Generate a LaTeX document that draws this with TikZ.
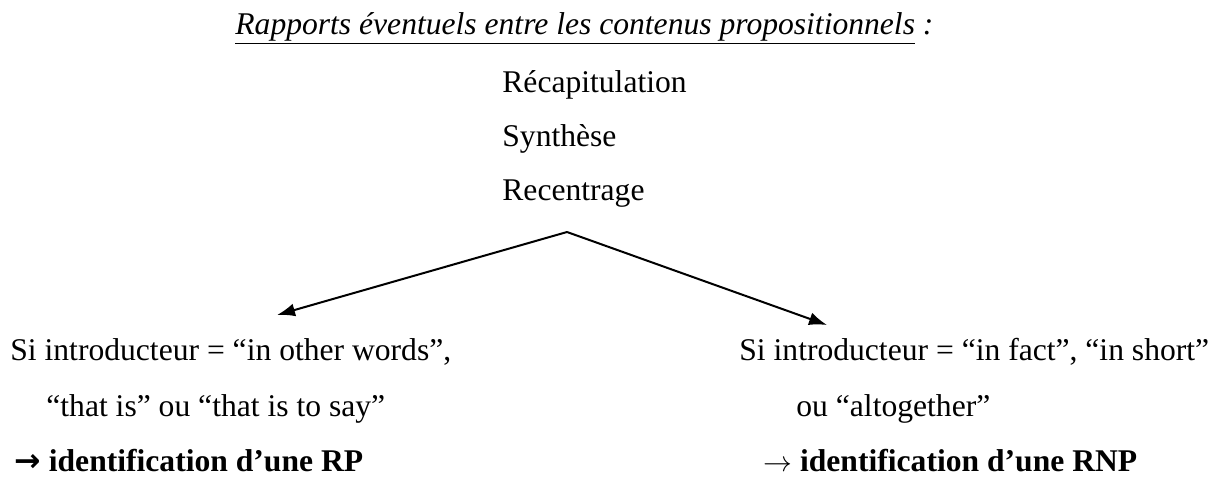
\documentclass[tikz,border=0pt]{standalone}
\usepackage{fontspec}
\setmainfont{Liberation Serif}
\newfontfamily\arrowfont{DejaVu Sans}
\usetikzlibrary{arrows.meta,positioning}

\begin{document}
\begin{tikzpicture}[
    x=0.5pt, y=-0.5pt,
    txt/.style={inner sep=0pt, anchor=base west, font=\fontsize{15.8}{19}\selectfont},
    link/.style={-{Latex[length=9pt,width=6.5pt]}, line width=1pt}
]
    \useasboundingbox (0,0) rectangle (1224,484);

    % Title
    \node[txt] (title) at (235,34) {\underline{\textit{Rapports éventuels entre les contenus propositionnels}}\textit{ :}};

    % Kinds of relation
    \node[txt] (recap) at (502,92) {Récapitulation};
    \node[txt] (synth) at (502,146) {Synthèse};
    \node[txt] (recent) at (502,200) {Recentrage};

    % Arrows
    \coordinate (apex) at (567,232);
    \coordinate (tipL) at (277,315);
    \coordinate (tipR) at (827,325);
    \draw[link] (apex) -- (tipL);
    \draw[link] (apex) -- (tipR);

    % Left branch
    \node[txt] (leftA) at (10,360) {Si introducteur = “in other words”,};
    \node[txt] (leftB) at (46,416) {“that is” ou “that is to say”};
    \node[txt] (leftC) at (14,471) {\textbf{{\arrowfont →}\hspace{4pt}identification d’une RP}};

    % Right branch
    \node[txt] (rightA) at (739,360) {Si introducteur = “in fact”, “in short”};
    \node[txt] (rightB) at (796,416) {ou “altogether”};
    \node[txt] (rightC) at (763,471) {$\rightarrow$ \textbf{identification d’une RNP}};
\end{tikzpicture}
\end{document}
